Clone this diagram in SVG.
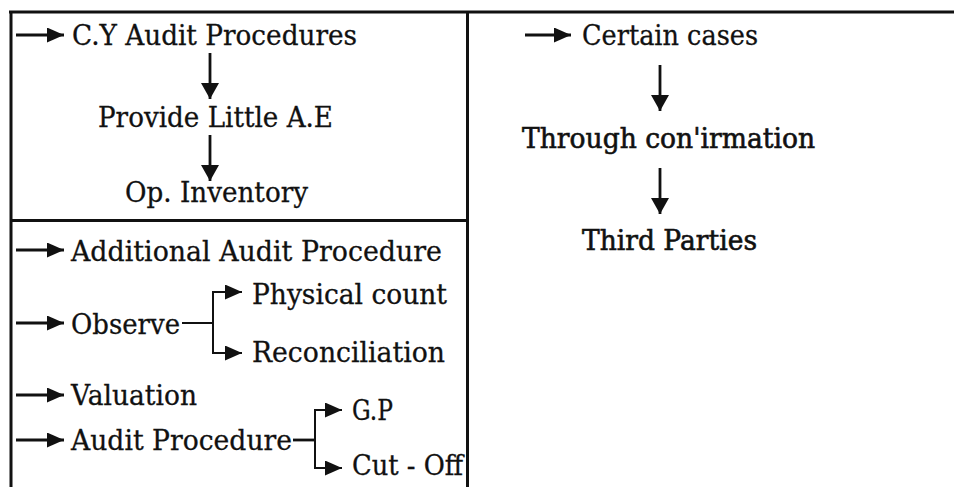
<svg xmlns="http://www.w3.org/2000/svg" width="954" height="487" viewBox="0 0 954 487">
  <style>
    .frame { stroke: #111; stroke-width: 3; fill: none; }
    .link { stroke: #111; stroke-width: 2.8; fill: none; }
    .branch { stroke: #111; stroke-width: 2; fill: none; }
    .label { font-family: "DejaVu Serif", "Liberation Serif", serif; font-size: 27px; fill: #111; stroke: #111; stroke-width: 0.3; }
    .heavy { stroke-width: 0.6; }
  </style>
  <defs>
    <marker id="ah" markerUnits="userSpaceOnUse" markerWidth="17" markerHeight="15" refX="17" refY="7.5" orient="auto">
      <path d="M0,0 L17,7.5 L0,15 z" fill="#111"/>
    </marker>
    <marker id="av" markerUnits="userSpaceOnUse" markerWidth="16" markerHeight="18" refX="16" refY="9" orient="auto">
      <path d="M0,0 L16,9 L0,18 z" fill="#111"/>
    </marker>
  </defs>

  <rect x="0" y="0" width="954" height="487" fill="#fff"/>

  <!-- table frame -->
  <g id="frame">
    <line class="frame" x1="9" y1="12" x2="954" y2="12"/>
    <line class="frame" x1="11" y1="11" x2="11" y2="487"/>
    <line class="frame" x1="467.5" y1="11" x2="467.5" y2="487"/>
    <line class="frame" x1="11" y1="220.5" x2="467" y2="220.5"/>
  </g>

  <!-- connectors -->
  <g id="connectors">
    <line class="link" x1="16" y1="35" x2="64" y2="35" marker-end="url(#ah)"/>
    <line class="link" x1="210" y1="53" x2="210" y2="99" marker-end="url(#av)"/>
    <line class="link" x1="210" y1="135" x2="210" y2="181" marker-end="url(#av)"/>

    <line class="link" x1="16" y1="250" x2="64" y2="250" marker-end="url(#ah)"/>
    <line class="link" x1="16" y1="323" x2="64" y2="323" marker-end="url(#ah)"/>
    <line class="link" x1="16" y1="395" x2="64" y2="395" marker-end="url(#ah)"/>
    <line class="link" x1="16" y1="440" x2="64" y2="440" marker-end="url(#ah)"/>

    <path class="branch" d="M182,323 H213 M213,292 V353"/>
    <line class="branch" x1="212" y1="292" x2="242" y2="292" marker-end="url(#ah)"/>
    <line class="branch" x1="212" y1="353" x2="242" y2="353" marker-end="url(#ah)"/>

    <path class="link" d="M293,440 H315"/>
    <path class="branch" d="M315,410 V468"/>
    <line class="branch" x1="314" y1="410" x2="342" y2="410" marker-end="url(#ah)"/>
    <line class="branch" x1="314" y1="468" x2="342" y2="468" marker-end="url(#ah)"/>

    <line class="link" x1="525" y1="35" x2="571" y2="35" marker-end="url(#ah)"/>
    <line class="link" x1="660" y1="65" x2="660" y2="111" marker-end="url(#av)"/>
    <line class="link" x1="660" y1="168" x2="660" y2="214" marker-end="url(#av)"/>
  </g>

  <!-- left upper cell -->
  <g id="cy-audit"><text class="label" x="72" y="45" textLength="285" lengthAdjust="spacingAndGlyphs">C.Y Audit Procedures</text></g>
  <g id="little-ae"><text class="label" x="98" y="127" textLength="235" lengthAdjust="spacingAndGlyphs">Provide Little A.E</text></g>
  <g id="op-inventory"><text class="label" x="125" y="202" textLength="183" lengthAdjust="spacingAndGlyphs">Op. Inventory</text></g>

  <!-- left lower cell -->
  <g id="additional"><text class="label" x="71" y="261" textLength="371" lengthAdjust="spacingAndGlyphs">Additional Audit Procedure</text></g>
  <g id="observe"><text class="label" x="71" y="334" textLength="109" lengthAdjust="spacingAndGlyphs">Observe</text></g>
  <g id="physical-count"><text class="label" x="252" y="304" textLength="195" lengthAdjust="spacingAndGlyphs">Physical count</text></g>
  <g id="reconciliation"><text class="label" x="252" y="362" textLength="193" lengthAdjust="spacingAndGlyphs">Reconciliation</text></g>
  <g id="valuation"><text class="label" x="71" y="405" textLength="126" lengthAdjust="spacingAndGlyphs">Valuation</text></g>
  <g id="audit-procedure"><text class="label" x="71" y="450" textLength="221" lengthAdjust="spacingAndGlyphs">Audit Procedure</text></g>
  <g id="gp"><text class="label" x="352" y="420" textLength="41" lengthAdjust="spacingAndGlyphs">G.P</text></g>
  <g id="cut-off"><text class="label" x="352" y="475" textLength="111" lengthAdjust="spacingAndGlyphs">Cut - Off</text></g>

  <!-- right cell -->
  <g id="certain-cases"><text class="label" x="582" y="45" textLength="176" lengthAdjust="spacingAndGlyphs">Certain cases</text></g>
  <g id="confirmation"><text class="label heavy" x="522" y="148" textLength="293" lengthAdjust="spacingAndGlyphs">Through con'irmation</text></g>
  <g id="third-parties"><text class="label heavy" x="582" y="250" textLength="175" lengthAdjust="spacingAndGlyphs">Third Parties</text></g>
</svg>
